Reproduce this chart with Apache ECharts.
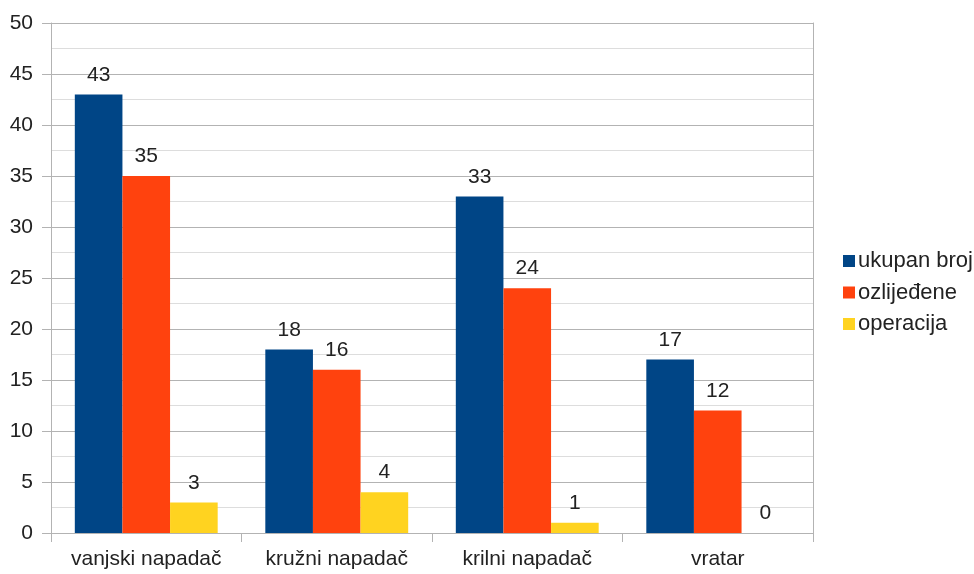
<!DOCTYPE html>
<html><head><meta charset="utf-8">
<script src="https://cdn.jsdelivr.net/npm/echarts@6/dist/echarts.min.js"></script>
<style>html,body{margin:0;padding:0;background:#fff}#c{width:974px;height:574px}</style>
</head><body><div id="c"></div>
<script>
const categories = ['vanjski napadač', 'kružni napadač', 'krilni napadač', 'vratar'];
const ukupanBroj = [43, 18, 33, 17];
const ozlijedene = [35, 16, 24, 12];
const operacija = [3, 4, 1, 0];
const seriesNames = ['ukupan broj', 'ozlijeđene', 'operacija'];
const colors = ['#004586', '#ff420e', '#ffd320'];

const font = 'Liberation Sans';
const chart = echarts.init(document.getElementById('c'));
const lbl = {show: true, position: 'top', distance: 9, color: '#222', fontSize: 21, fontFamily: font};
chart.setOption({
  animation: false,
  grid: {left: 51, right: 161, top: 23, bottom: 41},
  legend: {
    orient: 'vertical', left: 838, top: 245, itemWidth: 12, itemHeight: 12, itemGap: 9.5,
    icon: 'rect',
    textStyle: {fontSize: 22, fontFamily: font, color: '#222', padding: [0, 0, 0, -2]},
    data: seriesNames
  },
  xAxis: {
    type: 'category', data: categories,
    axisLine: {lineStyle: {color: '#b3b3b3', width: 1}},
    axisTick: {show: true, interval: 0, length: 9, lineStyle: {color: '#b3b3b3'}},
    axisLabel: {interval: 0, color: '#222', fontSize: 21, fontFamily: font, margin: 16}
  },
  yAxis: [{
    type: 'value', min: 0, max: 50, interval: 5,
    axisLine: {show: true, lineStyle: {color: '#b3b3b3'}},
    axisTick: {show: true, length: 9, lineStyle: {color: '#b3b3b3'}},
    axisLabel: {color: '#222', fontSize: 21, fontFamily: font, margin: 18},
    splitLine: {lineStyle: {color: '#b3b3b3', width: 1}},
    minorTick: {show: false, splitNumber: 2},
    minorSplitLine: {show: true, lineStyle: {color: '#dddddd', width: 1}}
  }, {
    type: 'value', min: 0, max: 50, interval: 5, position: 'right',
    axisLine: {show: true, lineStyle: {color: '#b3b3b3'}},
    axisTick: {show: false}, axisLabel: {show: false}, splitLine: {show: false}
  }],
  series: [
    {name: seriesNames[0], type: 'bar', data: ukupanBroj, itemStyle: {color: colors[0]}, barGap: '0%', barCategoryGap: '25%', label: lbl},
    {name: seriesNames[1], type: 'bar', data: ozlijedene, itemStyle: {color: colors[1]}, label: lbl},
    {name: seriesNames[2], type: 'bar', data: operacija, itemStyle: {color: colors[2]}, label: lbl}
  ]
});
</script></body></html>
